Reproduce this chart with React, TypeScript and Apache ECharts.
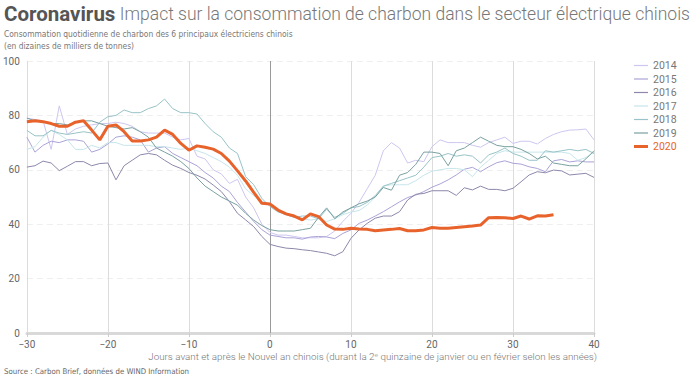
import React, { useEffect, useRef } from "react";
import * as echarts from "echarts";

const START_DAY = -30;
const xTicks = [-30, -20, -10, 0, 10, 20, 30, 40];
const yTicks = [0, 20, 40, 60, 80, 100];

const years = ["2014", "2015", "2016", "2017", "2018", "2019", "2020"];
const colors = ["#cdc6ef", "#aaa3d6", "#8d87aa", "#c6e5ea", "#98c3c7", "#7aa0a0", "#e8632b"];

const v2014 = [79, 78.5, 78, 67.5, 83.5, 73, 75, 76, 76.5, 77, 77, 77.5, 77, 76, 74, 73.5, 73.5, 73.5, 72, 71, 71.5,
  65, 64, 60, 58.5, 55, 56.5, 50, 46, 40, 37, 36, 36, 35.5, 35, 35, 35, 35.5, 37.5, 41, 44,
  48, 53, 58, 67, 70, 68, 62.5, 63.5, 63, 68.5, 71, 70, 70, 70, 69, 68.3, 70, 71, 72, 69.7,
  70.5, 70.5, 69.5, 71.5, 73, 74, 74.6, 74.7, 75, 71];
const v2015 = [72, 66.5, 69, 70.5, 70, 71, 71, 70.5, 66.5, 67.5, 69.5, 72, 72.5, 72, 71, 66.5, 68, 68.5, 66, 64.5, 63,
  61.5, 59, 57, 54, 52, 48, 44.5, 41, 38, 36, 35.5, 35, 35, 34.5, 35.3, 35.5, 35.3, 34.7, 36.6, 37.9,
  40.3, 41.5, 43, 44.6, 46.4, 48.2, 49.8, 50.7, 52, 53.6, 54.8, 56.3, 58.1, 60.2, 60.9, 59.3, 61.1, 62.6, 63.3, 62.4,
  62.1, 61.1, 60.5, 59.3, 63.3, 63.8, 62.9, 63.3, 62.9, 62.9];
const v2016 = [61, 61.5, 63.2, 62.5, 59.7, 61.3, 63, 63, 61.5, 62.3, 62.5, 56.3, 61.5, 63.5, 65.5, 66, 65.5, 63.5, 61.7, 60.5, 59,
  58, 56.6, 54.4, 52, 48.3, 44, 41.6, 39.1, 35.5, 32.6, 31.8, 31.2, 31, 30.6, 30.3, 29.8, 29.3, 28.4, 29.9, 34.8,
  37.9, 40.3, 42.2, 43, 43, 44.6, 48.9, 51, 51.3, 52.3, 52.3, 52.3, 50.6, 53.4, 52.6, 54, 52.8, 52.8, 52.3, 53.2,
  55.6, 58.1, 59.3, 58.9, 59.9, 59.6, 58.1, 58.4, 58.7, 57.2];
const v2017 = [67.5, 68.5, 72, 74.5, 73, 71, 67.5, 67.5, 69, 68, 70, 70, 69, 69, 69, 69, 68.5, 68.5, 68, 67.5, 68,
  67, 66, 64.5, 63, 61, 58, 53, 50.5, 48.5, 47.5, 45, 43.5, 42.5, 42, 41.5, 42, 41, 42, 43.5, 44.5,
  45, 47, 50, 54, 54.5, 54.5, 54.5, 56, 58, 59.5, 60, 60.5, 60.5, 60, 57.5, 61, 63.5, 66, 67, 66.5,
  66.5, 66.5, 66.5, 66.5, 66.5, 66.5, 66, 63.5, 64.5, 66.5];
const v2018 = [74.5, 72.5, 72.5, 74.5, 73.5, 73, 73.5, 74, 73.5, 77.5, 79.5, 80, 82, 81, 81, 82.5, 83.5, 86, 82.5, 81, 81,
  80.5, 77, 74, 72, 68, 66, 57.5, 54.5, 49.5, 46.5, 44.5, 43.5, 42.5, 43, 43, 42, 45.5, 42.5, 44, 46,
  46.5, 48, 50.5, 54, 55, 56, 57, 58, 61, 64.5, 65, 66, 65, 65.5, 65, 62.5, 65.5, 66.5, 68, 66,
  65, 63.5, 63.5, 67, 66.5, 67, 67.5, 67, 67.5, 66];
const v2019 = [79, 78, 77.5, 77, 77, 76.5, 77.5, 78, 78, 77, 76, 75.5, 75, 75.5, 74, 72, 68, 66.5, 65, 63, 60.5,
  57, 54, 52, 50, 48.5, 47, 44, 41.5, 39.5, 38, 37.5, 37.5, 37.5, 38, 38.5, 42.5, 46, 42, 44.5, 46,
  47.5, 48.5, 50, 53.5, 52.5, 58, 59, 62, 66.5, 66.5, 66, 61.5, 67, 68, 70, 72, 70.5, 69, 68.5, 68.5,
  67.5, 66, 64, 65, 62.5, 62, 61.5, 61.5, 64, 67];
const v2020 = [77.7, 78, 77.7, 77, 76, 76, 77.5, 78, 74.6, 71, 76, 76.5, 74, 70.6, 70.6, 71, 72, 74.6, 73, 69.7, 67.2,
  68.8, 68.3, 67.6, 66, 63.2, 59.6, 55.9, 51.7, 47.7, 47.4, 45.2, 43.8, 43, 41.6, 43.8, 42.8, 39.7, 38.2, 38.1, 38.5,
  38.2, 38.1, 37.6, 37.9, 38.1, 38.4, 37.6, 37.6, 37.9, 38.8, 38.5, 38.5, 38.8, 39.1, 39.3, 39.7, 42.4, 42.5, 42.4, 42.1,
  43, 41.9, 43.1, 43, 43.5];

const seriesValues = [v2014, v2015, v2016, v2017, v2018, v2019, v2020];

const FONT = "Roboto, 'Noto Sans', sans-serif";
const NARROW = "'Liberation Sans Narrow', 'DejaVu Sans Condensed', Roboto, sans-serif";

export default function App() {
  const ref = useRef<HTMLDivElement>(null);
  useEffect(() => {
    if (!ref.current) return;
    const chart = echarts.init(ref.current, null, { renderer: "svg" });
    const series: any[] = years.map((y, i) => {
      const is2020 = y === "2020";
      const s: any = {
        name: y,
        type: "line",
        data: seriesValues[i].map((v, k) => [START_DAY + k, v]),
        symbol: "none",
        showSymbol: false,
        z: is2020 ? 10 : 2,
        lineStyle: { color: colors[i], width: is2020 ? 3 : 1 },
        itemStyle: { color: colors[i] },
      };
      if (is2020) {
        s.markLine = {
          silent: true,
          symbol: "none",
          label: { show: false },
          lineStyle: { color: "#9a9a9a", type: "solid", width: 1 },
          data: [{ xAxis: 0 }],
          z: 1,
        };
      }
      return s;
    });
    chart.setOption({
      animation: false,
      textStyle: { fontFamily: FONT },
      title: {
        left: 4,
        top: 0,
        padding: [3, 0, 0, 0],
        text: "{b|Coronavirus} {l|Impact sur la consommation de charbon dans le secteur électrique chinois}",
        textStyle: {
          rich: {
            b: { fontFamily: FONT, fontSize: 20.5, fontWeight: "bold", color: "#555" },
            l: { fontFamily: FONT, fontSize: 17.5, fontWeight: 300, color: "#777" },
          },
        },
      },
      graphic: [
        {
          type: "text",
          left: 4,
          top: 28,
          style: {
            text: "Consommation quotidienne de charbon des 6 principaux électriciens chinois\n(en dizaines de milliers de tonnes)",
            fontFamily: NARROW,
            fontSize: 8.4,
            lineHeight: 12,
            fill: "#777",
          },
        },
        {
          type: "text",
          right: 103,
          top: 351,
          style: {
            text: "Jours avant et après le Nouvel an chinois (durant la 2ᵉ quinzaine de janvier ou en février selon les années)",
            fontFamily: FONT,
            fontSize: 9.8,
            fontWeight: 300,
            fill: "#777",
          },
        },
        {
          type: "text",
          left: 4,
          top: 367,
          style: {
            text: "Source : Carbon Brief, données de WIND Information",
            fontFamily: NARROW,
            fontSize: 7.8,
            fill: "#666",
          },
        },
      ],
      legend: {
        orient: "vertical",
        left: 634,
        top: 60,
        padding: 0,
        itemWidth: 14,
        itemHeight: 10,
        itemGap: 2.5,
        textStyle: { color: "#777", fontSize: 10.5, fontFamily: FONT, lineHeight: 10 },
        data: years.map((y, i) =>
          y === "2020"
            ? { name: y, icon: "path://M0,0 L14,0 L14,3 L0,3 Z", textStyle: { color: colors[i] } }
            : { name: y, icon: "path://M0,0 L14,0 L14,1.2 L0,1.2 Z" }
        ),
      },
      grid: { left: 25, right: 106, top: 61, bottom: 44, containLabel: false },
      xAxis: {
        type: "value",
        min: xTicks[0],
        max: xTicks[xTicks.length - 1],
        interval: 10,
        axisLine: { show: true, onZero: false, lineStyle: { color: "#d9d9d9", width: 3 } },
        axisTick: { show: true, length: 4, lineStyle: { color: "#ccc" } },
        axisLabel: {
          color: "#666",
          fontSize: 10,
          margin: 6,
          formatter: (v: number) => (v < 0 ? "\u2212" + Math.abs(v) : String(v)),
        },
        splitLine: { show: true, lineStyle: { color: "#dcdcdc", width: 1 } },
      },
      yAxis: {
        type: "value",
        min: yTicks[0],
        max: yTicks[yTicks.length - 1],
        interval: 20,
        axisLine: { show: false },
        axisTick: { show: false },
        axisLabel: { color: "#666", fontSize: 10, margin: 7 },
        splitLine: { show: true, lineStyle: { color: "#efefef", type: [6, 4], width: 1 } },
      },
      series,
    });
    return () => chart.dispose();
  }, []);
  return <div ref={ref} style={{ width: 700, height: 377, position: "absolute", left: 0, top: 0 }} />;
}
